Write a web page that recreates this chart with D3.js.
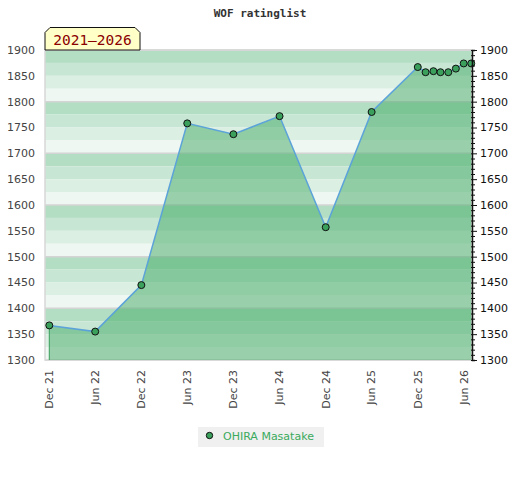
<!DOCTYPE html>
<html>
<head>
<meta charset="utf-8">
<script src="https://cdn.jsdelivr.net/npm/d3@7"></script>
<style>
  body { margin: 0; background: #fff; }
  text { font-family: "DejaVu Sans", sans-serif; }
</style>
</head>
<body>
<div id="chart"></div>
<script>
// rating history, one entry per point
let dates = ["2021-12", "2022-06", "2022-12", "2023-06", "2023-12", "2024-06", "2024-12",
             "2025-06", "2025-12", "2026-01", "2026-02", "2026-03", "2026-04", "2026-05",
             "2026-06", "2026-07"];
let ratings = [1367, 1355, 1445, 1758, 1737, 1772, 1557, 1780, 1867, 1857, 1859, 1857,
               1857, 1864, 1874, 1874];
let xTicks = ["2021-12", "2022-06", "2022-12", "2023-06", "2023-12", "2024-06", "2024-12",
              "2025-06", "2025-12", "2026-06"];
let yTicks = [1300, 1350, 1400, 1450, 1500, 1550, 1600, 1650, 1700, 1750, 1800, 1850, 1900];
let playerName = "OHIRA Masatake";
let periodLabel = "2021\u20132026";
let chartTitle = "WOF ratinglist";

let width = 520, height = 480;
let margin = {top: 50, right: 48, bottom: 120, left: 45};

let parseMonth = d3.timeParse("%Y-%m");
let data = dates.map((d, i) => ({date: parseMonth(d), rating: ratings[i]}));

let svg = d3.select("#chart").append("svg")
    .attr("width", width)
    .attr("height", height);

let x = d3.scaleTime()
    .domain([new Date(2021, 10, 14), new Date(2026, 6, 4)])
    .range([margin.left, width - margin.right]);

let y = d3.scaleLinear()
    .domain([1300, 1900])
    .range([height - margin.bottom, margin.top]);

// background bands, 25 points tall, four shades per hundred
let bandColors = ["#b3dec3", "#c8e6d4", "#dcefe3", "#eef7f1"];
let bandTops = d3.range(1900, 1300, -25);
svg.append("g").selectAll("rect")
    .data(bandTops)
    .enter().append("rect")
    .attr("x", margin.left)
    .attr("width", width - margin.right - margin.left)
    .attr("y", d => y(d))
    .attr("height", d => y(d - 25) - y(d))
    .attr("fill", d => bandColors[((1900 - d) / 25) % 4]);

// grid lines every hundred
svg.append("g").selectAll("line")
    .data(yTicks.filter(d => d % 100 === 0))
    .enter().append("line")
    .attr("x1", margin.left)
    .attr("x2", width - margin.right)
    .attr("y1", d => y(d))
    .attr("y2", d => y(d))
    .attr("stroke", "#d4d4d4")
    .attr("stroke-width", 1.5);

// plot frame
svg.append("rect")
    .attr("x", margin.left)
    .attr("y", margin.top)
    .attr("width", width - margin.right - margin.left)
    .attr("height", height - margin.bottom - margin.top)
    .attr("fill", "none")
    .attr("stroke", "#d8d8d8")
    .attr("stroke-width", 1.5);

let area = d3.area()
    .x(d => x(d.date))
    .y0(y(1300))
    .y1(d => y(d.rating));

svg.append("path")
    .datum(data)
    .attr("d", area)
    .attr("fill", "#43aa66")
    .attr("fill-opacity", 0.5);

// left edge of the filled area
svg.append("line")
    .attr("x1", x(data[0].date))
    .attr("x2", x(data[0].date))
    .attr("y1", y(data[0].rating))
    .attr("y2", y(1300))
    .attr("stroke", "#3a9e5c")
    .attr("stroke-width", 1);

let line = d3.line()
    .x(d => x(d.date))
    .y(d => y(d.rating));

svg.append("path")
    .datum(data)
    .attr("d", line)
    .attr("fill", "none")
    .attr("stroke", "#5ba3d9")
    .attr("stroke-width", 1.5);

svg.append("g").selectAll("circle")
    .data(data)
    .enter().append("circle")
    .attr("cx", d => x(d.date))
    .attr("cy", d => y(d.rating))
    .attr("r", 3.5)
    .attr("fill", "#3aa05c")
    .attr("stroke", "#111")
    .attr("stroke-width", 1);

// left labels, no tick marks
svg.append("g").selectAll("text")
    .data(yTicks)
    .enter().append("text")
    .attr("x", margin.left - 10)
    .attr("y", d => y(d))
    .attr("dy", "0.35em")
    .attr("text-anchor", "end")
    .attr("font-size", 11)
    .attr("fill", "#444")
    .text(d => d);

// right axis with minor ticks every 10
let rightX = width - margin.right;
let rightAxis = d3.axisRight(y)
    .tickValues(d3.range(1300, 1901, 10))
    .tickSize(3)
    .tickFormat("");
let ra = svg.append("g")
    .attr("transform", "translate(" + rightX + ",0)")
    .call(rightAxis);
ra.select(".domain").attr("stroke", "#111").attr("stroke-width", 1.5);
ra.selectAll(".tick line")
    .attr("x1", -1)
    .attr("stroke", "#111")
    .attr("x2", d => d % 50 === 0 ? 5 : 3);

svg.append("g").selectAll("text")
    .data(yTicks)
    .enter().append("text")
    .attr("x", rightX + 8)
    .attr("y", d => y(d))
    .attr("dy", "0.35em")
    .attr("font-size", 11)
    .attr("fill", "#111")
    .text(d => d);

// x labels, rotated
let fmt = d3.timeFormat("%b %y");
svg.append("g").selectAll("text")
    .data(xTicks.map(parseMonth))
    .enter().append("text")
    .attr("transform", d => "translate(" + x(d) + "," + (y(1300) + 10) + ") rotate(-90)")
    .attr("dy", "0.35em")
    .attr("text-anchor", "end")
    .attr("font-size", 11)
    .attr("fill", "#444")
    .text(d => fmt(d));

// title
svg.append("text")
    .attr("x", width / 2)
    .attr("y", 17)
    .attr("text-anchor", "middle")
    .style("font-family", "'DejaVu Sans Mono', monospace")
    .attr("font-size", 11)
    .attr("font-weight", "bold")
    .attr("fill", "#333")
    .text(chartTitle);

// period tag on top of the plot
let tag = svg.append("g");
let tx0 = margin.left, tx1 = 140, ty0 = 27.5, ty1 = margin.top;
tag.append("path")
    .attr("d", "M" + tx0 + "," + ty1 + "V" + (ty0 + 5) + "L" + (tx0 + 5) + "," + ty0 +
               "H" + (tx1 - 5) + "L" + tx1 + "," + (ty0 + 5) + "V" + ty1 + "Z")
    .attr("fill", "#ffffc8")
    .attr("stroke", "#111")
    .attr("stroke-width", 1);
tag.append("text")
    .attr("x", (tx0 + tx1) / 2)
    .attr("y", 45)
    .attr("text-anchor", "middle")
    .style("font-family", "'DejaVu Sans Mono', monospace")
    .attr("font-size", 14.5)
    .attr("fill", "#8b0000")
    .text(periodLabel);

// legend
let legend = svg.append("g");
legend.append("rect")
    .attr("x", 198)
    .attr("y", 427)
    .attr("width", 126)
    .attr("height", 20)
    .attr("fill", "#f0f0f0");
legend.append("circle")
    .attr("cx", 209.5)
    .attr("cy", 435.5)
    .attr("r", 3.2)
    .attr("fill", "#3aa05c")
    .attr("stroke", "#111");
legend.append("text")
    .attr("x", 223)
    .attr("y", 436)
    .attr("dy", "0.35em")
    .attr("font-size", 11)
    .attr("fill", "#3aaa5c")
    .text(playerName);
</script>
</body>
</html>
